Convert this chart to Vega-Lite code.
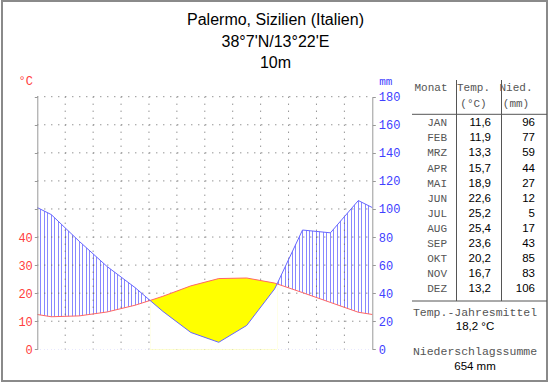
{
 "$schema": "https://vega.github.io/schema/vega-lite/v6.json",
 "width": 545, "height": 380, "autosize": "none",
 "padding": {"left": 2, "top": 1, "right": 3, "bottom": 3},
 "background": "white",
 "title": {"text": ["Palermo, Sizilien (Italien)", "38°7'N/13°22'E", "10m"], "font": "Liberation Sans", "fontSize": 16, "fontWeight": "normal", "color": "black", "lineHeight": 21.5, "anchor": "middle", "frame": "group", "baseline": "top", "offset": 0, "dy": 70, "dx": 1},
 "config": {"view": {"stroke": "#8a8a8a", "strokeWidth": 2}, "locale": {"number": {"decimal": ",", "thousands": ".", "grouping": [3], "currency": ["", " €"]}}},
 "datasets": {
  "clim": [
   {"x": 0, "t": 12.4, "p": 101},
   {"x": 0.5, "mon": "JAN", "t": 11.6, "p": 96},
   {"x": 1.5, "mon": "FEB", "t": 11.9, "p": 77},
   {"x": 2.5, "mon": "MRZ", "t": 13.3, "p": 59},
   {"x": 3.5, "mon": "APR", "t": 15.7, "p": 44},
   {"x": 4.04, "t": 17.4, "p": 34.8},
   {"x": 4.5, "mon": "MAI", "t": 18.9, "p": 27},
   {"x": 5.5, "mon": "JUN", "t": 22.6, "p": 12},
   {"x": 6.5, "mon": "JUL", "t": 25.2, "p": 5},
   {"x": 7.5, "mon": "AUG", "t": 25.4, "p": 17},
   {"x": 8.5, "mon": "SEP", "t": 23.6, "p": 43},
   {"x": 8.59, "t": 23.3, "p": 46.6},
   {"x": 9.5, "mon": "OKT", "t": 20.2, "p": 85},
   {"x": 10.5, "mon": "NOV", "t": 16.7, "p": 83},
   {"x": 11.5, "mon": "DEZ", "t": 13.2, "p": 106},
   {"x": 12, "t": 12.4, "p": 101}
  ]
 },
 "resolve": {"scale": {"x": "independent", "y": "independent"}},
 "layer": [
  {
   "data": {"name": "clim"},
   "resolve": {"scale": {"y": "independent"}},
   "layer": [
    {"mark": {"type": "area", "opacity": 1, "stroke": null, "fill": {"gradient": "linear", "x1": 0, "y1": 0, "x2": 1, "y2": 0, "stops": [
      {"offset":0,"color":"#fff"},
      {"offset":0.0089,"color":"#fff"},{"offset":0.0089,"color":"#88f"},{"offset":0.0119,"color":"#88f"},{"offset":0.0119,"color":"#fff"},
      {"offset":0.0193,"color":"#fff"},{"offset":0.0193,"color":"#88f"},{"offset":0.0223,"color":"#88f"},{"offset":0.0223,"color":"#fff"},
      {"offset":0.0298,"color":"#fff"},{"offset":0.0298,"color":"#88f"},{"offset":0.0328,"color":"#88f"},{"offset":0.0328,"color":"#fff"},
      {"offset":0.0402,"color":"#fff"},{"offset":0.0402,"color":"#88f"},{"offset":0.0432,"color":"#88f"},{"offset":0.0432,"color":"#fff"},
      {"offset":0.0506,"color":"#fff"},{"offset":0.0506,"color":"#88f"},{"offset":0.0536,"color":"#88f"},{"offset":0.0536,"color":"#fff"},
      {"offset":0.0610,"color":"#fff"},{"offset":0.0610,"color":"#88f"},{"offset":0.0640,"color":"#88f"},{"offset":0.0640,"color":"#fff"},
      {"offset":0.0714,"color":"#fff"},{"offset":0.0714,"color":"#88f"},{"offset":0.0744,"color":"#88f"},{"offset":0.0744,"color":"#fff"},
      {"offset":0.0818,"color":"#fff"},{"offset":0.0818,"color":"#88f"},{"offset":0.0848,"color":"#88f"},{"offset":0.0848,"color":"#fff"},
      {"offset":0.0923,"color":"#fff"},{"offset":0.0923,"color":"#88f"},{"offset":0.0953,"color":"#88f"},{"offset":0.0953,"color":"#fff"},
      {"offset":0.1027,"color":"#fff"},{"offset":0.1027,"color":"#88f"},{"offset":0.1057,"color":"#88f"},{"offset":0.1057,"color":"#fff"},
      {"offset":0.1131,"color":"#fff"},{"offset":0.1131,"color":"#88f"},{"offset":0.1161,"color":"#88f"},{"offset":0.1161,"color":"#fff"},
      {"offset":0.1235,"color":"#fff"},{"offset":0.1235,"color":"#88f"},{"offset":0.1265,"color":"#88f"},{"offset":0.1265,"color":"#fff"},
      {"offset":0.1339,"color":"#fff"},{"offset":0.1339,"color":"#88f"},{"offset":0.1369,"color":"#88f"},{"offset":0.1369,"color":"#fff"},
      {"offset":0.1443,"color":"#fff"},{"offset":0.1443,"color":"#88f"},{"offset":0.1473,"color":"#88f"},{"offset":0.1473,"color":"#fff"},
      {"offset":0.1548,"color":"#fff"},{"offset":0.1548,"color":"#88f"},{"offset":0.1578,"color":"#88f"},{"offset":0.1578,"color":"#fff"},
      {"offset":0.1652,"color":"#fff"},{"offset":0.1652,"color":"#88f"},{"offset":0.1682,"color":"#88f"},{"offset":0.1682,"color":"#fff"},
      {"offset":0.1756,"color":"#fff"},{"offset":0.1756,"color":"#88f"},{"offset":0.1786,"color":"#88f"},{"offset":0.1786,"color":"#fff"},
      {"offset":0.1860,"color":"#fff"},{"offset":0.1860,"color":"#88f"},{"offset":0.1890,"color":"#88f"},{"offset":0.1890,"color":"#fff"},
      {"offset":0.1964,"color":"#fff"},{"offset":0.1964,"color":"#88f"},{"offset":0.1994,"color":"#88f"},{"offset":0.1994,"color":"#fff"},
      {"offset":0.2068,"color":"#fff"},{"offset":0.2068,"color":"#88f"},{"offset":0.2098,"color":"#88f"},{"offset":0.2098,"color":"#fff"},
      {"offset":0.2173,"color":"#fff"},{"offset":0.2173,"color":"#88f"},{"offset":0.2203,"color":"#88f"},{"offset":0.2203,"color":"#fff"},
      {"offset":0.2277,"color":"#fff"},{"offset":0.2277,"color":"#88f"},{"offset":0.2307,"color":"#88f"},{"offset":0.2307,"color":"#fff"},
      {"offset":0.2381,"color":"#fff"},{"offset":0.2381,"color":"#88f"},{"offset":0.2411,"color":"#88f"},{"offset":0.2411,"color":"#fff"},
      {"offset":0.2485,"color":"#fff"},{"offset":0.2485,"color":"#88f"},{"offset":0.2515,"color":"#88f"},{"offset":0.2515,"color":"#fff"},
      {"offset":0.2589,"color":"#fff"},{"offset":0.2589,"color":"#88f"},{"offset":0.2619,"color":"#88f"},{"offset":0.2619,"color":"#fff"},
      {"offset":0.2693,"color":"#fff"},{"offset":0.2693,"color":"#88f"},{"offset":0.2723,"color":"#88f"},{"offset":0.2723,"color":"#fff"},
      {"offset":0.2798,"color":"#fff"},{"offset":0.2798,"color":"#88f"},{"offset":0.2828,"color":"#88f"},{"offset":0.2828,"color":"#fff"},
      {"offset":0.2902,"color":"#fff"},{"offset":0.2902,"color":"#88f"},{"offset":0.2932,"color":"#88f"},{"offset":0.2932,"color":"#fff"},
      {"offset":0.3006,"color":"#fff"},{"offset":0.3006,"color":"#88f"},{"offset":0.3036,"color":"#88f"},{"offset":0.3036,"color":"#fff"},
      {"offset":0.3110,"color":"#fff"},{"offset":0.3110,"color":"#88f"},{"offset":0.3140,"color":"#88f"},{"offset":0.3140,"color":"#fff"},
      {"offset":0.3214,"color":"#fff"},{"offset":0.3214,"color":"#88f"},{"offset":0.3244,"color":"#88f"},{"offset":0.3244,"color":"#fff"},
      {"offset":0.3318,"color":"#fff"},{"offset":0.3318,"color":"#88f"},{"offset":0.3348,"color":"#88f"},{"offset":0.3348,"color":"#fff"},
      {"offset":0.3423,"color":"#fff"},{"offset":0.3423,"color":"#88f"},{"offset":0.3453,"color":"#88f"},{"offset":0.3453,"color":"#fff"},
      {"offset":0.3527,"color":"#fff"},{"offset":0.3527,"color":"#88f"},{"offset":0.3557,"color":"#88f"},{"offset":0.3557,"color":"#fff"},
      {"offset":0.3631,"color":"#fff"},{"offset":0.3631,"color":"#88f"},{"offset":0.3661,"color":"#88f"},{"offset":0.3661,"color":"#fff"},
      {"offset":0.3735,"color":"#fff"},{"offset":0.3735,"color":"#88f"},{"offset":0.3765,"color":"#88f"},{"offset":0.3765,"color":"#fff"},
      {"offset":0.3839,"color":"#fff"},{"offset":0.3839,"color":"#88f"},{"offset":0.3869,"color":"#88f"},{"offset":0.3869,"color":"#fff"},
      {"offset":0.3943,"color":"#fff"},{"offset":0.3943,"color":"#88f"},{"offset":0.3973,"color":"#88f"},{"offset":0.3973,"color":"#fff"},
      {"offset":0.4048,"color":"#fff"},{"offset":0.4048,"color":"#88f"},{"offset":0.4078,"color":"#88f"},{"offset":0.4078,"color":"#fff"},
      {"offset":0.4152,"color":"#fff"},{"offset":0.4152,"color":"#88f"},{"offset":0.4182,"color":"#88f"},{"offset":0.4182,"color":"#fff"},
      {"offset":0.4256,"color":"#fff"},{"offset":0.4256,"color":"#88f"},{"offset":0.4286,"color":"#88f"},{"offset":0.4286,"color":"#fff"},
      {"offset":0.4360,"color":"#fff"},{"offset":0.4360,"color":"#88f"},{"offset":0.4390,"color":"#88f"},{"offset":0.4390,"color":"#fff"},
      {"offset":0.4464,"color":"#fff"},{"offset":0.4464,"color":"#88f"},{"offset":0.4494,"color":"#88f"},{"offset":0.4494,"color":"#fff"},
      {"offset":0.4568,"color":"#fff"},{"offset":0.4568,"color":"#88f"},{"offset":0.4598,"color":"#88f"},{"offset":0.4598,"color":"#fff"},
      {"offset":0.4673,"color":"#fff"},{"offset":0.4673,"color":"#88f"},{"offset":0.4703,"color":"#88f"},{"offset":0.4703,"color":"#fff"},
      {"offset":0.4777,"color":"#fff"},{"offset":0.4777,"color":"#88f"},{"offset":0.4807,"color":"#88f"},{"offset":0.4807,"color":"#fff"},
      {"offset":0.4881,"color":"#fff"},{"offset":0.4881,"color":"#88f"},{"offset":0.4911,"color":"#88f"},{"offset":0.4911,"color":"#fff"},
      {"offset":0.4985,"color":"#fff"},{"offset":0.4985,"color":"#88f"},{"offset":0.5015,"color":"#88f"},{"offset":0.5015,"color":"#fff"},
      {"offset":0.5089,"color":"#fff"},{"offset":0.5089,"color":"#88f"},{"offset":0.5119,"color":"#88f"},{"offset":0.5119,"color":"#fff"},
      {"offset":0.5193,"color":"#fff"},{"offset":0.5193,"color":"#88f"},{"offset":0.5223,"color":"#88f"},{"offset":0.5223,"color":"#fff"},
      {"offset":0.5298,"color":"#fff"},{"offset":0.5298,"color":"#88f"},{"offset":0.5328,"color":"#88f"},{"offset":0.5328,"color":"#fff"},
      {"offset":0.5402,"color":"#fff"},{"offset":0.5402,"color":"#88f"},{"offset":0.5432,"color":"#88f"},{"offset":0.5432,"color":"#fff"},
      {"offset":0.5506,"color":"#fff"},{"offset":0.5506,"color":"#88f"},{"offset":0.5536,"color":"#88f"},{"offset":0.5536,"color":"#fff"},
      {"offset":0.5610,"color":"#fff"},{"offset":0.5610,"color":"#88f"},{"offset":0.5640,"color":"#88f"},{"offset":0.5640,"color":"#fff"},
      {"offset":0.5714,"color":"#fff"},{"offset":0.5714,"color":"#88f"},{"offset":0.5744,"color":"#88f"},{"offset":0.5744,"color":"#fff"},
      {"offset":0.5818,"color":"#fff"},{"offset":0.5818,"color":"#88f"},{"offset":0.5848,"color":"#88f"},{"offset":0.5848,"color":"#fff"},
      {"offset":0.5923,"color":"#fff"},{"offset":0.5923,"color":"#88f"},{"offset":0.5953,"color":"#88f"},{"offset":0.5953,"color":"#fff"},
      {"offset":0.6027,"color":"#fff"},{"offset":0.6027,"color":"#88f"},{"offset":0.6057,"color":"#88f"},{"offset":0.6057,"color":"#fff"},
      {"offset":0.6131,"color":"#fff"},{"offset":0.6131,"color":"#88f"},{"offset":0.6161,"color":"#88f"},{"offset":0.6161,"color":"#fff"},
      {"offset":0.6235,"color":"#fff"},{"offset":0.6235,"color":"#88f"},{"offset":0.6265,"color":"#88f"},{"offset":0.6265,"color":"#fff"},
      {"offset":0.6339,"color":"#fff"},{"offset":0.6339,"color":"#88f"},{"offset":0.6369,"color":"#88f"},{"offset":0.6369,"color":"#fff"},
      {"offset":0.6443,"color":"#fff"},{"offset":0.6443,"color":"#88f"},{"offset":0.6473,"color":"#88f"},{"offset":0.6473,"color":"#fff"},
      {"offset":0.6548,"color":"#fff"},{"offset":0.6548,"color":"#88f"},{"offset":0.6578,"color":"#88f"},{"offset":0.6578,"color":"#fff"},
      {"offset":0.6652,"color":"#fff"},{"offset":0.6652,"color":"#88f"},{"offset":0.6682,"color":"#88f"},{"offset":0.6682,"color":"#fff"},
      {"offset":0.6756,"color":"#fff"},{"offset":0.6756,"color":"#88f"},{"offset":0.6786,"color":"#88f"},{"offset":0.6786,"color":"#fff"},
      {"offset":0.6860,"color":"#fff"},{"offset":0.6860,"color":"#88f"},{"offset":0.6890,"color":"#88f"},{"offset":0.6890,"color":"#fff"},
      {"offset":0.6964,"color":"#fff"},{"offset":0.6964,"color":"#88f"},{"offset":0.6994,"color":"#88f"},{"offset":0.6994,"color":"#fff"},
      {"offset":0.7068,"color":"#fff"},{"offset":0.7068,"color":"#88f"},{"offset":0.7098,"color":"#88f"},{"offset":0.7098,"color":"#fff"},
      {"offset":0.7173,"color":"#fff"},{"offset":0.7173,"color":"#88f"},{"offset":0.7203,"color":"#88f"},{"offset":0.7203,"color":"#fff"},
      {"offset":0.7277,"color":"#fff"},{"offset":0.7277,"color":"#88f"},{"offset":0.7307,"color":"#88f"},{"offset":0.7307,"color":"#fff"},
      {"offset":0.7381,"color":"#fff"},{"offset":0.7381,"color":"#88f"},{"offset":0.7411,"color":"#88f"},{"offset":0.7411,"color":"#fff"},
      {"offset":0.7485,"color":"#fff"},{"offset":0.7485,"color":"#88f"},{"offset":0.7515,"color":"#88f"},{"offset":0.7515,"color":"#fff"},
      {"offset":0.7589,"color":"#fff"},{"offset":0.7589,"color":"#88f"},{"offset":0.7619,"color":"#88f"},{"offset":0.7619,"color":"#fff"},
      {"offset":0.7693,"color":"#fff"},{"offset":0.7693,"color":"#88f"},{"offset":0.7723,"color":"#88f"},{"offset":0.7723,"color":"#fff"},
      {"offset":0.7798,"color":"#fff"},{"offset":0.7798,"color":"#88f"},{"offset":0.7828,"color":"#88f"},{"offset":0.7828,"color":"#fff"},
      {"offset":0.7902,"color":"#fff"},{"offset":0.7902,"color":"#88f"},{"offset":0.7932,"color":"#88f"},{"offset":0.7932,"color":"#fff"},
      {"offset":0.8006,"color":"#fff"},{"offset":0.8006,"color":"#88f"},{"offset":0.8036,"color":"#88f"},{"offset":0.8036,"color":"#fff"},
      {"offset":0.8110,"color":"#fff"},{"offset":0.8110,"color":"#88f"},{"offset":0.8140,"color":"#88f"},{"offset":0.8140,"color":"#fff"},
      {"offset":0.8214,"color":"#fff"},{"offset":0.8214,"color":"#88f"},{"offset":0.8244,"color":"#88f"},{"offset":0.8244,"color":"#fff"},
      {"offset":0.8318,"color":"#fff"},{"offset":0.8318,"color":"#88f"},{"offset":0.8348,"color":"#88f"},{"offset":0.8348,"color":"#fff"},
      {"offset":0.8423,"color":"#fff"},{"offset":0.8423,"color":"#88f"},{"offset":0.8453,"color":"#88f"},{"offset":0.8453,"color":"#fff"},
      {"offset":0.8527,"color":"#fff"},{"offset":0.8527,"color":"#88f"},{"offset":0.8557,"color":"#88f"},{"offset":0.8557,"color":"#fff"},
      {"offset":0.8631,"color":"#fff"},{"offset":0.8631,"color":"#88f"},{"offset":0.8661,"color":"#88f"},{"offset":0.8661,"color":"#fff"},
      {"offset":0.8735,"color":"#fff"},{"offset":0.8735,"color":"#88f"},{"offset":0.8765,"color":"#88f"},{"offset":0.8765,"color":"#fff"},
      {"offset":0.8839,"color":"#fff"},{"offset":0.8839,"color":"#88f"},{"offset":0.8869,"color":"#88f"},{"offset":0.8869,"color":"#fff"},
      {"offset":0.8943,"color":"#fff"},{"offset":0.8943,"color":"#88f"},{"offset":0.8973,"color":"#88f"},{"offset":0.8973,"color":"#fff"},
      {"offset":0.9048,"color":"#fff"},{"offset":0.9048,"color":"#88f"},{"offset":0.9078,"color":"#88f"},{"offset":0.9078,"color":"#fff"},
      {"offset":0.9152,"color":"#fff"},{"offset":0.9152,"color":"#88f"},{"offset":0.9182,"color":"#88f"},{"offset":0.9182,"color":"#fff"},
      {"offset":0.9256,"color":"#fff"},{"offset":0.9256,"color":"#88f"},{"offset":0.9286,"color":"#88f"},{"offset":0.9286,"color":"#fff"},
      {"offset":0.9360,"color":"#fff"},{"offset":0.9360,"color":"#88f"},{"offset":0.9390,"color":"#88f"},{"offset":0.9390,"color":"#fff"},
      {"offset":0.9464,"color":"#fff"},{"offset":0.9464,"color":"#88f"},{"offset":0.9494,"color":"#88f"},{"offset":0.9494,"color":"#fff"},
      {"offset":0.9568,"color":"#fff"},{"offset":0.9568,"color":"#88f"},{"offset":0.9598,"color":"#88f"},{"offset":0.9598,"color":"#fff"},
      {"offset":0.9673,"color":"#fff"},{"offset":0.9673,"color":"#88f"},{"offset":0.9703,"color":"#88f"},{"offset":0.9703,"color":"#fff"},
      {"offset":0.9777,"color":"#fff"},{"offset":0.9777,"color":"#88f"},{"offset":0.9807,"color":"#88f"},{"offset":0.9807,"color":"#fff"},
      {"offset":0.9881,"color":"#fff"},{"offset":0.9881,"color":"#88f"},{"offset":0.9911,"color":"#88f"},{"offset":0.9911,"color":"#fff"},
      {"offset":1,"color":"#fff"}]}},
     "encoding": {
      "x": {"field": "x", "type": "quantitative", "scale": {"domain": [0, 12], "range": [35.3, 370.3], "nice": false, "zero": false}, "axis": null},
      "y": {"field": "p", "type": "quantitative", "scale": {"domain": [0, 180], "range": [348.3, 95.7], "nice": false, "zero": false}, "axis": null},
      "y2": {"datum": 0}
     }
    },
    {"mark": {"type": "area", "opacity": 1, "fill": "white", "stroke": null},
     "encoding": {
      "x": {"field": "x", "type": "quantitative", "scale": {"domain": [0, 12], "range": [35.3, 370.3], "nice": false, "zero": false}, "axis": null},
      "y": {"field": "t", "type": "quantitative", "scale": {"domain": [0, 90], "range": [348.3, 95.7], "nice": false, "zero": false}, "axis": null},
      "y2": {"datum": 0}
     }
    },
    {"data": {"values": [{"x": 1}, {"x": 2}, {"x": 3}, {"x": 4}, {"x": 5}, {"x": 6}, {"x": 7}, {"x": 8}, {"x": 9}, {"x": 10}, {"x": 11}]},
     "mark": {"type": "rule", "color": "#666", "strokeWidth": 1, "strokeDash": [1, 6]},
     "encoding": {
      "x": {"field": "x", "type": "quantitative", "scale": {"domain": [0, 12], "range": [35.3, 370.3], "nice": false, "zero": false}, "axis": null},
      "y": {"datum": 180, "type": "quantitative", "scale": {"domain": [0, 180], "range": [348.3, 95.7], "nice": false, "zero": false}, "axis": null},
      "y2": {"datum": 0}
     }
    },
    {"data": {"values": [{"mm": 20}, {"mm": 40}, {"mm": 60}, {"mm": 80}, {"mm": 100}, {"mm": 120}, {"mm": 140}, {"mm": 160}, {"mm": 180}]},
     "mark": {"type": "rule", "color": "#666", "strokeWidth": 1, "strokeDash": [1, 6]},
     "encoding": {
      "x": {"datum": 0, "type": "quantitative", "scale": {"domain": [0, 12], "range": [35.3, 370.3], "nice": false, "zero": false}, "axis": null},
      "x2": {"datum": 12},
      "y": {"field": "mm", "type": "quantitative", "scale": {"domain": [0, 180], "range": [348.3, 95.7], "nice": false, "zero": false}, "axis": null}
     }
    },
    {"transform": [{"filter": {"field": "x", "range": [4.04, 8.59]}}],
     "mark": {"type": "area", "opacity": 1, "fill": "#ffff00", "stroke": null},
     "encoding": {
      "x": {"field": "x", "type": "quantitative", "scale": {"domain": [0, 12], "range": [35.3, 370.3], "nice": false, "zero": false}, "axis": null},
      "y": {"field": "t", "type": "quantitative", "scale": {"domain": [0, 90], "range": [348.3, 95.7], "nice": false, "zero": false}, "axis": null},
      "y2": {"datum": 0}
     }
    },
    {"transform": [{"filter": {"field": "x", "range": [4.04, 8.59]}}],
     "mark": {"type": "area", "opacity": 1, "fill": "white", "stroke": null},
     "encoding": {
      "x": {"field": "x", "type": "quantitative", "scale": {"domain": [0, 12], "range": [35.3, 370.3], "nice": false, "zero": false}, "axis": null},
      "y": {"field": "p", "type": "quantitative", "scale": {"domain": [0, 180], "range": [348.3, 95.7], "nice": false, "zero": false}, "axis": null},
      "y2": {"datum": 0}
     }
    },
    {"mark": {"type": "line", "color": "#ff6666", "strokeWidth": 1},
     "encoding": {
      "x": {"field": "x", "type": "quantitative",
       "scale": {"domain": [0, 12], "range": [35.3, 370.3], "nice": false, "zero": false},
       "axis": {"values": [0, 0.5, 1, 1.5, 2, 2.5, 3, 3.5, 4, 4.5, 5, 5.5, 6, 6.5, 7, 7.5, 8, 8.5, 9, 9.5, 10, 10.5, 11, 11.5, 12],
        "labelExpr": "datum.value % 1 == 0.5 ? ['J','F','M','A','M','J','J','A','S','O','N','D'][floor(datum.value)] : ''",
        "offset": -31.7, "zindex": 1, "grid": false,
        "tickOpacity": {"condition": {"test": "datum.value % 1 == 0", "value": 1}, "value": 0},
        "tickSize": 4, "tickColor": "#999", "domainColor": "#999",
        "labelFont": "Liberation Mono", "labelFontSize": 12, "labelColor": "#444", "labelPadding": 3,
        "labelOverlap": false, "labelFlush": false, "title": null}},
      "y": {"field": "t", "type": "quantitative", "scale": {"domain": [0, 90], "range": [348.3, 95.7], "nice": false, "zero": false},
       "axis": {"orient": "left", "values": [0, 10, 20, 30, 40, 50, 60, 70, 80, 90], "labelExpr": "datum.value <= 40 ? datum.label : ''",
        "offset": -35.3, "zindex": 1, "grid": false,
        "tickSize": 3, "tickColor": "#999", "domainColor": "#999",
        "labelColor": "#ff4040", "labelFont": "Liberation Mono", "labelFontSize": 12, "labelPadding": 2,
        "labelFlush": false, "labelOverlap": false,
        "title": "°C", "titleAngle": 0, "titleX": -12, "titleY": 79, "titleAlign": "center", "titleBaseline": "middle",
        "titleColor": "#ff4040", "titleFont": "Liberation Mono", "titleFontSize": 12, "titleFontWeight": "normal"}}
     }
    },
    {"mark": {"type": "line", "color": "#6666ff", "strokeWidth": 1},
     "encoding": {
      "x": {"field": "x", "type": "quantitative", "scale": {"domain": [0, 12], "range": [35.3, 370.3], "nice": false, "zero": false}, "axis": null},
      "y": {"field": "p", "type": "quantitative", "scale": {"domain": [0, 180], "range": [348.3, 95.7], "nice": false, "zero": false},
       "axis": {"orient": "right", "values": [0, 20, 40, 60, 80, 100, 120, 140, 160, 180],
        "offset": -174.7, "zindex": 1, "grid": false,
        "tickSize": 3, "tickColor": "#999", "domainColor": "#999",
        "labelColor": "#4040ff", "labelFont": "Liberation Mono", "labelFontSize": 12, "labelPadding": 3,
        "labelFlush": false, "labelOverlap": false,
        "title": "mm", "titleAngle": 0, "titleX": 13, "titleY": 80.5, "titleAlign": "center", "titleBaseline": "middle",
        "titleColor": "#4040ff", "titleFont": "Liberation Mono", "titleFontSize": 11, "titleFontWeight": "normal"}}
     }
    }
   ]
  },
  {
   "data": {"name": "clim"},
   "transform": [{"filter": "isValid(datum.mon)"}],
   "mark": {"type": "text", "align": "right", "baseline": "middle", "font": "Liberation Mono", "fontSize": 11, "color": "#555"},
   "encoding": {
    "x": {"datum": "Monat", "type": "nominal", "scale": {"type": "point", "domain": ["Monat", "Temp", "Nied"], "range": [445, 533], "padding": 0}, "axis": null},
    "y": {"field": "mon", "type": "nominal", "sort": null, "scale": {"type": "point", "domain": ["JAN","FEB","MRZ","APR","MAI","JUN","JUL","AUG","SEP","OKT","NOV","DEZ"], "range": [122.3, 288.3], "padding": 0}, "axis": null},
    "text": {"field": "mon", "type": "nominal"}
   }
  },
  {
   "data": {"name": "clim"},
   "transform": [{"filter": "isValid(datum.mon)"}],
   "mark": {"type": "text", "align": "right", "baseline": "middle", "font": "Liberation Sans", "fontSize": 11.5, "color": "black"},
   "encoding": {
    "x": {"datum": "Temp", "type": "nominal", "scale": {"type": "point", "domain": ["Monat", "Temp", "Nied"], "range": [445, 533], "padding": 0}, "axis": null},
    "y": {"field": "mon", "type": "nominal", "sort": null, "scale": {"type": "point", "domain": ["JAN","FEB","MRZ","APR","MAI","JUN","JUL","AUG","SEP","OKT","NOV","DEZ"], "range": [122.3, 288.3], "padding": 0}, "axis": null},
    "text": {"field": "t", "type": "quantitative", "format": ".1f"}
   }
  },
  {
   "data": {"name": "clim"},
   "transform": [{"filter": "isValid(datum.mon)"}],
   "mark": {"type": "text", "align": "right", "baseline": "middle", "font": "Liberation Sans", "fontSize": 11.5, "color": "black"},
   "encoding": {
    "x": {"datum": "Nied", "type": "nominal", "scale": {"type": "point", "domain": ["Monat", "Temp", "Nied"], "range": [445, 533], "padding": 0}, "axis": null},
    "y": {"field": "mon", "type": "nominal", "sort": null, "scale": {"type": "point", "domain": ["JAN","FEB","MRZ","APR","MAI","JUN","JUL","AUG","SEP","OKT","NOV","DEZ"], "range": [122.3, 288.3], "padding": 0}, "axis": null},
    "text": {"field": "p", "type": "quantitative", "format": "d"}
   }
  },
  {
   "data": {"values": [{"c": "Monat", "h": ["Monat"]}, {"c": "Temp", "h": ["Temp.", "(°C)"]}, {"c": "Nied", "h": ["Nied.", "(mm)"]}]},
   "mark": {"type": "text", "align": "center", "baseline": "top", "font": "Liberation Mono", "fontSize": 11, "color": "#555", "lineHeight": 16},
   "encoding": {
    "x": {"field": "c", "type": "nominal", "scale": {"type": "point", "domain": ["Monat", "Temp", "Nied"], "range": [429, 514], "padding": 0}, "axis": null},
    "y": {"datum": "h", "type": "nominal", "scale": {"type": "point", "domain": ["h"], "range": [80.5, 80.5], "padding": 0}, "axis": null},
    "text": {"field": "h", "type": "nominal"}
   }
  },
  {
   "data": {"values": [{"k": "t", "label": "Temp.-Jahresmittel", "v": "18,2 °C"}, {"k": "p", "label": "Niederschlagssumme", "v": "654 mm"}]},
   "mark": {"type": "text", "align": "center", "baseline": "middle", "font": "Liberation Mono", "fontSize": 11.5, "color": "#555"},
   "encoding": {
    "x": {"datum": "s", "type": "nominal", "scale": {"type": "point", "domain": ["s"], "range": [473, 473], "padding": 0}, "axis": null},
    "y": {"field": "k", "type": "nominal", "scale": {"type": "point", "domain": ["t", "p"], "range": [312.3, 350.7], "padding": 0}, "axis": null},
    "text": {"field": "label", "type": "nominal"}
   }
  },
  {
   "data": {"values": [{"k": "t", "label": "Temp.-Jahresmittel", "v": "18,2 °C"}, {"k": "p", "label": "Niederschlagssumme", "v": "654 mm"}]},
   "mark": {"type": "text", "align": "center", "baseline": "middle", "font": "Liberation Sans", "fontSize": 11.5, "color": "black"},
   "encoding": {
    "x": {"datum": "s", "type": "nominal", "scale": {"type": "point", "domain": ["s"], "range": [473, 473], "padding": 0}, "axis": null},
    "y": {"field": "k", "type": "nominal", "scale": {"type": "point", "domain": ["t", "p"], "range": [325.7, 365.7], "padding": 0}, "axis": null},
    "text": {"field": "v", "type": "nominal"}
   }
  },
  {
   "data": {"values": [{"b": "Monat|Temp"}, {"b": "Temp|Nied"}]},
   "mark": {"type": "rule", "color": "#555", "strokeWidth": 1},
   "encoding": {
    "x": {"field": "b", "type": "nominal", "scale": {"type": "point", "domain": ["Monat|Temp", "Temp|Nied"], "range": [454.5, 499.5], "padding": 0}, "axis": null},
    "y": {"datum": "top", "type": "nominal", "scale": {"type": "point", "domain": ["top", "bottom"], "range": [79, 300], "padding": 0}, "axis": null},
    "y2": {"datum": "bottom"}
   }
  },
  {
   "data": {"values": [{"hl": "head"}, {"hl": "foot"}]},
   "mark": {"type": "rule", "color": "#555", "strokeWidth": 1},
   "encoding": {
    "x": {"datum": "l", "type": "nominal", "scale": {"type": "point", "domain": ["l", "r"], "range": [410, 545], "padding": 0}, "axis": null},
    "x2": {"datum": "r"},
    "y": {"field": "hl", "type": "nominal", "scale": {"type": "point", "domain": ["head", "foot"], "range": [113.3, 300], "padding": 0}, "axis": null}
   }
  }
 ]
}
